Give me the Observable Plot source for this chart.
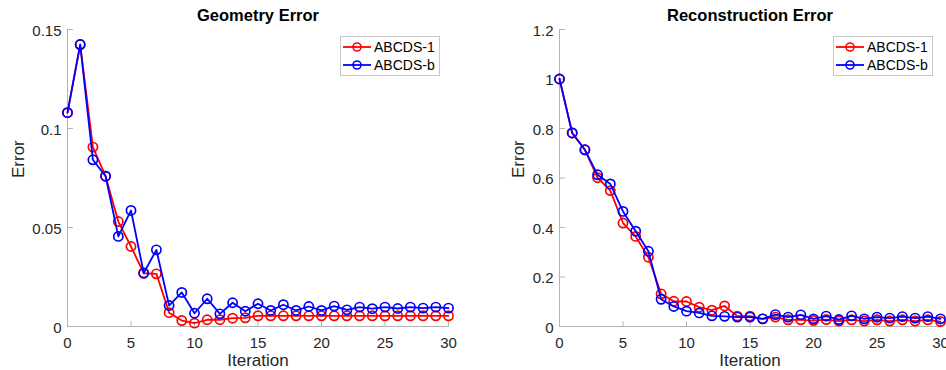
<!DOCTYPE html>
<html>
<head>
<meta charset="utf-8">
<script src="https://cdn.jsdelivr.net/npm/d3@7"></script>
<script src="https://cdn.jsdelivr.net/npm/@observablehq/plot@0.6"></script>
<style>
  html, body { margin: 0; padding: 0; background: #fff; }
  #wrap { position: relative; width: 946px; height: 370px; overflow: hidden; font-family: "Liberation Sans", Arial, Helvetica, sans-serif; }
  .panel { position: absolute; top: 0; }
  .legend { position: absolute; background: #fff; border: 1px solid #c8c8c8; font-size: 14px; color: #000; padding: 1px 4px 1px 2px; box-sizing: border-box; white-space: nowrap; }
  .legend .row { display: flex; align-items: center; height: 18px; }
  .legend svg { margin-right: 3px; flex: none; }
</style>
</head>
<body>
<div id="wrap"></div>
<script>
const iterations = [0,1,2,3,4,5,6,7,8,9,10,11,12,13,14,15,16,17,18,19,20,21,22,23,24,25,26,27,28,29,30];
const seriesNames = ["ABCDS-1", "ABCDS-b"];
const seriesColors = ["#ff0000", "#0000ff"];

const geometryA = [0.108,0.1424,0.0906,0.0759,0.053,0.0404,0.0269,0.0266,0.007,0.003,0.0017,0.0034,0.0034,0.0042,0.0044,0.0054,0.0054,0.0054,0.0054,0.0054,0.0054,0.0054,0.0054,0.0054,0.0054,0.0054,0.0054,0.0054,0.0054,0.0054,0.0054];
const geometryB = [0.108,0.1424,0.0842,0.0759,0.0455,0.0586,0.027,0.0387,0.0106,0.0172,0.0067,0.014,0.0064,0.012,0.0077,0.0115,0.0081,0.011,0.0081,0.0101,0.0081,0.0103,0.0084,0.0098,0.009,0.0098,0.0091,0.0098,0.0093,0.0098,0.0093];

const reconA = [1.0,0.782,0.714,0.601,0.549,0.418,0.364,0.28,0.132,0.102,0.101,0.078,0.066,0.083,0.042,0.042,0.031,0.038,0.027,0.027,0.024,0.028,0.022,0.027,0.022,0.027,0.022,0.027,0.022,0.027,0.02];
const reconB = [1.0,0.782,0.714,0.613,0.576,0.465,0.385,0.304,0.11,0.081,0.062,0.055,0.043,0.041,0.038,0.038,0.031,0.048,0.038,0.047,0.031,0.042,0.028,0.043,0.031,0.038,0.034,0.04,0.034,0.04,0.031];

const xTicks = [0,5,10,15,20,25,30];
const geomYTicks = [0,0.05,0.1,0.15];
const reconYTicks = [0,0.2,0.4,0.6,0.8,1,1.2];

const spike = { draw(ctx, l) { ctx.moveTo(0, 0); ctx.lineTo(0, -l); } };
const axisColor = "#b4b4b4";
const textColor = "#262626";

function makePanel({title, seriesA, seriesB, yDomain, yTicks, marginLeft, marginRight, labelDx}) {
  const rows = [];
  [seriesA, seriesB].forEach((vals, s) => {
    iterations.forEach((it, i) => rows.push({series: seriesNames[s], x: it, y: vals[i]}));
  });
  const marks = [
    Plot.ruleY([yDomain[0]], {stroke: axisColor, strokeWidth: 1}),
    Plot.ruleX([0], {stroke: axisColor, strokeWidth: 1}),
    Plot.vector(xTicks, {x: d => d, y: yDomain[0], length: 5, anchor: "start", shape: spike, stroke: axisColor, strokeWidth: 1}),
    Plot.vector(yTicks, {x: 0, y: d => d, length: 5, rotate: 90, anchor: "start", shape: spike, stroke: axisColor, strokeWidth: 1}),
    Plot.axisX(xTicks, {tickSize: 0, tickPadding: 11, fontSize: 15, fill: textColor, label: null}),
    Plot.axisY(yTicks, {tickSize: 0, tickPadding: 6, dy: 1.5, fontSize: 15, fill: textColor, label: null, tickFormat: d => String(+d.toFixed(4))})
  ];
  seriesNames.forEach((name, s) => {
    const data = rows.filter(r => r.series === name);
    marks.push(Plot.line(data, {x: "x", y: "y", stroke: seriesColors[s], strokeWidth: 1.8}));
    marks.push(Plot.dot(data, {x: "x", y: "y", r: 4.6, stroke: seriesColors[s], strokeWidth: 1.7, fill: "none"}));
  });
  marks.push(Plot.text([title], {frameAnchor: "top", dy: -20, fontSize: 16.5, fontWeight: "bold", fill: "#000", text: d => d}));
  marks.push(Plot.text(["Iteration"], {frameAnchor: "bottom", dy: 39, fontSize: 17, fill: textColor, text: d => d}));
  marks.push(Plot.text(["Error"], {frameAnchor: "left", dx: labelDx, rotate: -90, fontSize: 17, fill: textColor, text: d => d}));
  return Plot.plot({
    width: 473,
    height: 370,
    marginLeft, marginRight,
    marginTop: 29,
    marginBottom: 44,
    style: {fontFamily: '"Liberation Sans", Arial, Helvetica, sans-serif', background: "transparent", overflow: "visible"},
    x: {domain: [0, 30]},
    y: {domain: yDomain},
    marks
  });
}

const wrap = document.getElementById("wrap");
const left = makePanel({title: "Geometry Error", seriesA: geometryA, seriesB: geometryB, yDomain: [0, 0.15], yTicks: geomYTicks, marginLeft: 67, marginRight: 25, labelDx: -49});
left.classList.add("panel"); left.style.left = "0px";
const right = makePanel({title: "Reconstruction Error", seriesA: reconA, seriesB: reconB, yDomain: [0, 1.2], yTicks: reconYTicks, marginLeft: 86, marginRight: 6, labelDx: -41});
right.classList.add("panel"); right.style.left = "473px";
wrap.appendChild(left);
wrap.appendChild(right);

function legend(leftPx, topPx, widthPx) {
  const box = document.createElement("div");
  box.className = "legend";
  box.style.left = leftPx + "px"; box.style.top = topPx + "px"; box.style.width = widthPx + "px";
  seriesNames.forEach((name, s) => {
    const row = document.createElement("div");
    row.className = "row";
    row.innerHTML = `<svg width="28" height="12"><line x1="0" y1="6" x2="28" y2="6" stroke="${seriesColors[s]}" stroke-width="1.8"/><circle cx="14" cy="6" r="4" fill="none" stroke="${seriesColors[s]}" stroke-width="1.6"/></svg><span>${name}</span>`;
    box.appendChild(row);
  });
  wrap.appendChild(box);
}
legend(340, 36, 100);
legend(833, 36, 100);
</script>
</body>
</html>
